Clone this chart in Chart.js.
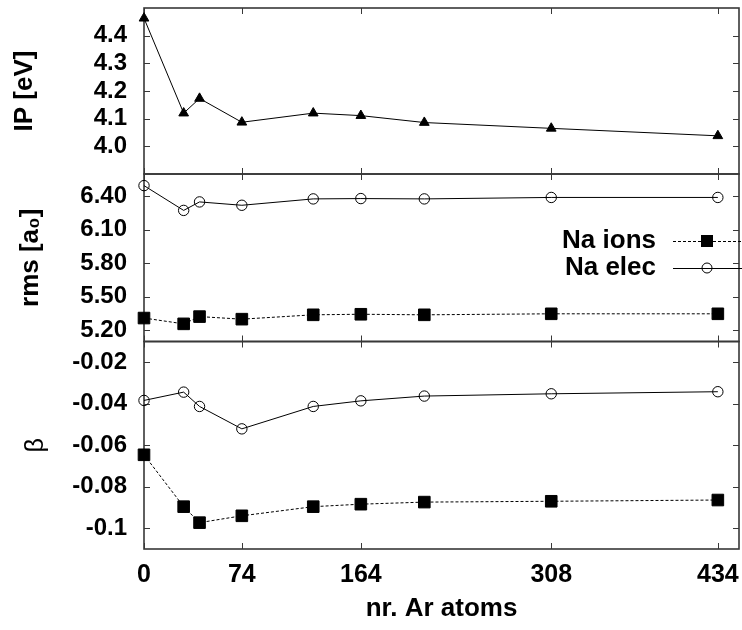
<!DOCTYPE html>
<html><head><meta charset="utf-8">
<script src="https://cdn.jsdelivr.net/npm/chart.js@4.4.0/dist/chart.umd.min.js"></script>
<style>
html,body{margin:0;padding:0;background:#fff;}
#wrap{position:relative;width:742px;height:630px;overflow:hidden;}
#wrap canvas{position:absolute;left:0;top:0;}
</style></head><body>
<div id="wrap">
<canvas id="c1" width="742" height="630"></canvas>
<canvas id="c2" width="742" height="630"></canvas>
<canvas id="c3" width="742" height="630"></canvas>
</div>
<script>
// ---- data ----
const arAtoms   = [0, 30, 42, 74, 128, 164, 212, 308, 434];
const ipValues  = [4.463, 4.120, 4.173, 4.087, 4.120, 4.111, 4.086, 4.065, 4.038];
const rmsIons   = [5.310, 5.258, 5.323, 5.300, 5.339, 5.344, 5.339, 5.348, 5.348];
const rmsElec   = [6.496, 6.274, 6.350, 6.320, 6.377, 6.380, 6.377, 6.390, 6.390];
const betaIons  = [-0.0646, -0.0896, -0.0973, -0.0940, -0.0896, -0.0884, -0.0874, -0.0870, -0.0864];
const betaElec  = [-0.0384, -0.0344, -0.0413, -0.0521, -0.0413, -0.0386, -0.0363, -0.0352, -0.0342];
const xTickValues = [0, 74, 164, 308, 434];
const ipTicks = [4.0, 4.1, 4.2, 4.3, 4.4];
const ipTickLabels = ['4.0', '4.1', '4.2', '4.3', '4.4'];
const rmsTicks = [5.2, 5.5, 5.8, 6.1, 6.4];
const rmsTickLabels = ['5.20', '5.50', '5.80', '6.10', '6.40'];
const betaTicks = [-0.1, -0.08, -0.06, -0.04, -0.02];
const betaTickLabels = ['-0.1', '-0.08', '-0.06', '-0.04', '-0.02'];
const seriesNames = ['Na ions', 'Na elec'];
const xTitle = 'nr. Ar atoms';

// ---- styling ----
const FONT = "'Liberation Sans', Arial, sans-serif";
const INK = '#000';
const FRAME = '#383838';

function pts(ys) { return arAtoms.map((x, i) => ({ x: x, y: ys[i] })); }

const framePlugin = {
  id: 'frame',
  beforeDatasetsDraw(chart) {
    const { ctx, chartArea: a, scales: { x, y } } = chart;
    const L = 6;
    ctx.save();
    ctx.strokeStyle = FRAME;
    ctx.lineWidth = 1;
    ctx.beginPath();
    y.ticks.forEach(t => {
      const py = Math.round(y.getPixelForValue(t.value)) + 0.5;
      ctx.moveTo(a.left, py); ctx.lineTo(a.left + L, py);
      ctx.moveTo(a.right, py); ctx.lineTo(a.right - L, py);
    });
    x.ticks.forEach(t => {
      const px = Math.round(x.getPixelForValue(t.value)) + 0.5;
      ctx.moveTo(px, a.bottom); ctx.lineTo(px, a.bottom - L);
      ctx.moveTo(px, a.top); ctx.lineTo(px, a.top + L);
    });
    ctx.stroke();
    ctx.lineWidth = 1.6;
    ctx.strokeRect(a.left, a.top, a.right - a.left, a.bottom - a.top);
    ctx.restore();
  }
};

const legendPlugin = {
  id: 'customLegend',
  afterDatasetsDraw(chart) {
    const ctx = chart.ctx;
    const items = [
      { name: seriesNames[0], y: 241, dash: [3, 2], marker: 'rect' },
      { name: seriesNames[1], y: 268, dash: [], marker: 'circle' }
    ];
    ctx.save();
    ctx.font = 'bold 26px ' + FONT;
    ctx.fillStyle = INK;
    ctx.textAlign = 'right';
    ctx.textBaseline = 'middle';
    items.forEach(it => {
      ctx.fillText(it.name, 656, it.y);
      ctx.strokeStyle = INK;
      ctx.lineWidth = 1;
      ctx.setLineDash(it.dash);
      ctx.beginPath();
      ctx.moveTo(673, it.y + 0.5); ctx.lineTo(742, it.y + 0.5);
      ctx.stroke();
      ctx.setLineDash([]);
      if (it.marker === 'rect') {
        ctx.fillRect(707 - 6, it.y - 6, 12, 12);
      } else {
        ctx.beginPath();
        ctx.arc(707, it.y, 5, 0, Math.PI * 2);
        ctx.stroke();
      }
    });
    ctx.restore();
  }
};

function ionsSet(ys) {
  return { label: seriesNames[0], data: pts(ys), borderColor: INK, borderWidth: 1, borderDash: [3, 2],
    pointStyle: 'rect', pointRadius: 8.2, pointBackgroundColor: INK, pointBorderColor: INK, pointBorderWidth: 1,
    tension: 0, clip: false };
}
function elecSet(ys) {
  return { label: seriesNames[1], data: pts(ys), borderColor: INK, borderWidth: 1,
    pointStyle: 'circle', pointRadius: 5.2, pointBackgroundColor: 'rgba(0,0,0,0)', pointBorderColor: INK, pointBorderWidth: 1,
    tension: 0, clip: false };
}

function makeChart(id, cfg) {
  return new Chart(document.getElementById(id), {
    type: 'line',
    data: { datasets: cfg.datasets },
    options: {
      responsive: false,
      animation: false,
      layout: { autoPadding: false, padding: { left: 0, right: 3, top: cfg.top, bottom: cfg.bottom } },
      plugins: { legend: { display: false }, tooltip: { enabled: false } },
      scales: {
        x: {
          type: 'linear', min: 0, max: 450,
          afterBuildTicks: s => { s.ticks = xTickValues.map(v => ({ value: v })); },
          afterFit: s => { s.height = cfg.xHeight; s.paddingLeft = 0; s.paddingRight = 0; },
          grid: { display: false }, border: { display: false },
          ticks: { display: cfg.showX, color: INK, font: { family: FONT, weight: 'bold', size: 25 },
            padding: 3, maxRotation: 0, autoSkip: false, callback: v => String(v) },
          title: { display: cfg.showX, text: xTitle, color: INK,
            font: { family: FONT, weight: 'bold', size: 26 }, padding: { top: 0, bottom: 6 } }
        },
        y: {
          type: 'linear', min: cfg.ymin, max: cfg.ymax,
          afterBuildTicks: s => { s.ticks = cfg.yTicks.map(v => ({ value: v })); },
          afterFit: s => { s.width = 144; s.paddingTop = 0; s.paddingBottom = 0; },
          grid: { display: false }, border: { display: false },
          ticks: { color: INK, font: { family: FONT, weight: 'bold', size: 24 }, padding: 9,
            callback: v => { const i = cfg.yTicks.findIndex(t => Math.abs(t - v) < 1e-9); return i >= 0 ? cfg.yLabels[i] : ''; } },
          title: { display: true, text: cfg.yTitle, color: INK, font: cfg.yTitleFont, padding: { top: cfg.yTitlePad, bottom: 0 } }
        }
      }
    },
    plugins: [framePlugin].concat(cfg.extraPlugins || [])
  });
}

makeChart('c1', {
  top: 8, bottom: 630 - 174, xHeight: 0, showX: false,
  ymin: 3.9, ymax: 4.5, yTicks: ipTicks, yLabels: ipTickLabels,
  yTitle: 'IP [eV]', yTitleFont: { family: FONT, weight: 'bold', size: 26 }, yTitlePad: 9,
  datasets: [{ label: 'IP', data: pts(ipValues), borderColor: INK, borderWidth: 1,
    pointStyle: 'triangle', pointRadius: 5.6, pointBackgroundColor: INK, pointBorderColor: INK, pointBorderWidth: 1,
    tension: 0, clip: false }]
});

makeChart('c2', {
  top: 174, bottom: 630 - 341.5, xHeight: 0, showX: false,
  ymin: 5.1, ymax: 6.6, yTicks: rmsTicks, yLabels: rmsTickLabels,
  yTitle: 'rms [a\u2080]', yTitleFont: { family: FONT, weight: 'bold', size: 26 }, yTitlePad: 15,
  datasets: [ionsSet(rmsIons), elecSet(rmsElec)],
  extraPlugins: [legendPlugin]
});

makeChart('c3', {
  top: 341.5, bottom: 0, xHeight: 81, showX: true,
  ymin: -0.11, ymax: -0.01, yTicks: betaTicks, yLabels: betaTickLabels,
  yTitle: '\u03B2', yTitleFont: { family: FONT, weight: 'normal', size: 25 }, yTitlePad: 21,
  datasets: [ionsSet(betaIons), elecSet(betaElec)]
});
</script>
</body></html>
